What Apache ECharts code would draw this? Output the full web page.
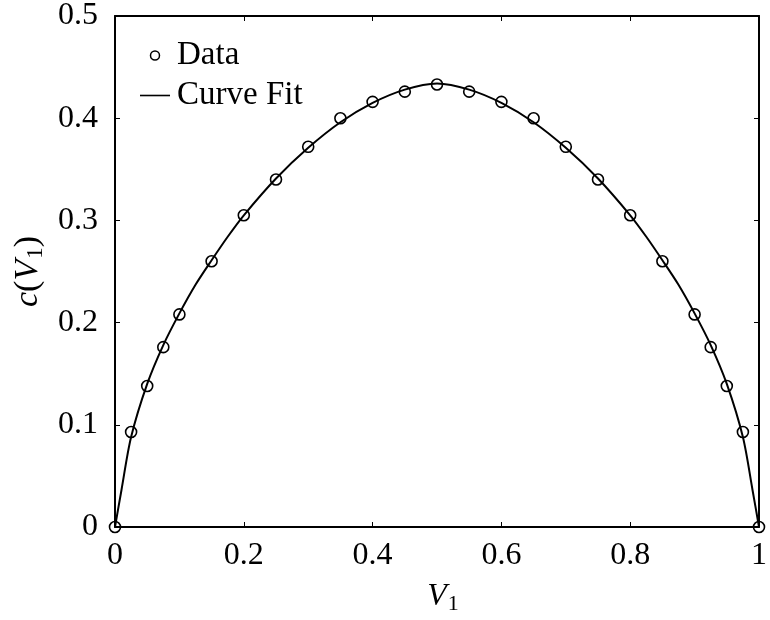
<!DOCTYPE html>
<html>
<head>
<meta charset="utf-8">
<script src="https://cdn.jsdelivr.net/npm/echarts@6/dist/echarts.min.js"></script>
<style>html,body{margin:0;padding:0;background:#fff}#c{width:770px;height:620px}</style>
</head>
<body>
<div id="c"></div>
<script>
// Measured data points
var dataX = [0, 0.025, 0.05, 0.075, 0.1, 0.15, 0.2, 0.25, 0.3, 0.35, 0.4, 0.45, 0.5, 0.55, 0.6, 0.65, 0.7, 0.75, 0.8, 0.85, 0.9, 0.925, 0.95, 0.975, 1];
var dataY = [0, 0.093, 0.138, 0.176, 0.208, 0.260, 0.305, 0.340, 0.372, 0.400, 0.416, 0.426, 0.433, 0.426, 0.416, 0.400, 0.372, 0.340, 0.305, 0.260, 0.208, 0.176, 0.138, 0.093, 0];
// Curve fit
var fitX = [0, 0.01, 0.025, 0.05, 0.075, 0.1, 0.125, 0.15, 0.175, 0.2, 0.25, 0.3, 0.35, 0.4, 0.45, 0.5, 0.55, 0.6, 0.65, 0.7, 0.75, 0.8, 0.825, 0.85, 0.875, 0.9, 0.925, 0.95, 0.975, 0.99, 1];
var fitY = [0, 0.036, 0.088, 0.140, 0.178, 0.209, 0.237, 0.261, 0.284, 0.305, 0.341, 0.371, 0.396, 0.415, 0.428, 0.434, 0.428, 0.415, 0.396, 0.371, 0.341, 0.305, 0.284, 0.261, 0.237, 0.209, 0.178, 0.140, 0.088, 0.036, 0];
var xTicks = ['0', '0.2', '0.4', '0.6', '0.8', '1'];
var yTicks = ['0', '0.1', '0.2', '0.3', '0.4', '0.5'];

var font = 'Liberation Serif';
var pts = dataX.map(function (x, i) { return [x, dataY[i]]; });
var fit = fitX.map(function (x, i) { return [x, fitY[i]]; });

var chart = echarts.init(document.getElementById('c'));
var axisLine = { show: true, onZero: false, lineStyle: { color: '#000', width: 2 } };
var tick = { show: true, inside: true, length: 5, lineStyle: { color: '#000', width: 1 } };
chart.setOption({
  animation: false,
  backgroundColor: '#fff',
  grid: { left: 115, right: 4, top: 15, bottom: 88, containLabel: false },
  legend: {
    orient: 'vertical', left: 135, top: 34, itemGap: 7,
    itemWidth: 30, itemHeight: 9, symbolKeepAspect: true,
    textStyle: { fontFamily: font, fontSize: 33, color: '#000', padding: [0, 0, 0, 2] },
    data: [
      { name: 'Data', icon: 'circle', itemStyle: { color: 'rgba(0,0,0,0)', borderColor: '#000', borderWidth: 1.5 } },
      { name: 'Curve Fit', icon: 'path://M0,0L30,0L30,1.6L0,1.6Z', itemStyle: { color: '#000', borderWidth: 0 } }
    ]
  },
  xAxis: [{
    type: 'value', min: 0, max: 1, interval: 0.2, position: 'bottom',
    axisLine: axisLine, axisTick: tick, splitLine: { show: false },
    axisLabel: { fontFamily: font, fontSize: 32, color: '#000', margin: 13,
      formatter: function (v) { return xTicks[Math.round(v / 0.2)]; } },
    name: '{i|V}{s|1}', nameLocation: 'middle', nameGap: 52,
    nameTextStyle: { padding: [0, 0, 0, 12], rich: {
      i: { fontFamily: font, fontStyle: 'italic', fontSize: 32, color: '#000' },
      s: { fontFamily: font, fontSize: 22, color: '#000', padding: [14, 0, 0, 1] }
    } }
  }, {
    type: 'value', min: 0, max: 1, interval: 0.2, position: 'top',
    axisLine: axisLine, axisTick: tick, splitLine: { show: false }, axisLabel: { show: false }
  }],
  yAxis: [{
    type: 'value', min: 0, max: 0.5, interval: 0.1, position: 'left',
    axisLine: axisLine, axisTick: tick, splitLine: { show: false },
    axisLabel: { fontFamily: font, fontSize: 32, color: '#000', margin: 17,
      formatter: function (v) { return yTicks[Math.round(v / 0.1)]; } },
    name: '{i|c}{n|(}{i|V}{s|1}{n|)}', nameLocation: 'middle', nameGap: 68,
    nameTextStyle: { rich: {
      i: { fontFamily: font, fontStyle: 'italic', fontSize: 34, color: '#000' },
      n: { fontFamily: font, fontSize: 34, color: '#000' },
      s: { fontFamily: font, fontSize: 23, color: '#000', padding: [15, 0, 0, 1] }
    } }
  }, {
    type: 'value', min: 0, max: 0.5, interval: 0.1, position: 'right',
    axisLine: axisLine, axisTick: tick, splitLine: { show: false }, axisLabel: { show: false }
  }],
  series: [{
    name: 'Curve Fit', type: 'line', data: fit, smooth: 0.3, symbol: 'none',
    lineStyle: { color: '#000', width: 2 }, itemStyle: { color: '#000' }, z: 2
  }, {
    name: 'Data', type: 'scatter', data: pts, symbol: 'circle', symbolSize: 11, clip: false,
    itemStyle: { color: 'rgba(0,0,0,0)', borderColor: '#000', borderWidth: 1.6, opacity: 1 }, z: 3
  }]
});
</script>
</body>
</html>
